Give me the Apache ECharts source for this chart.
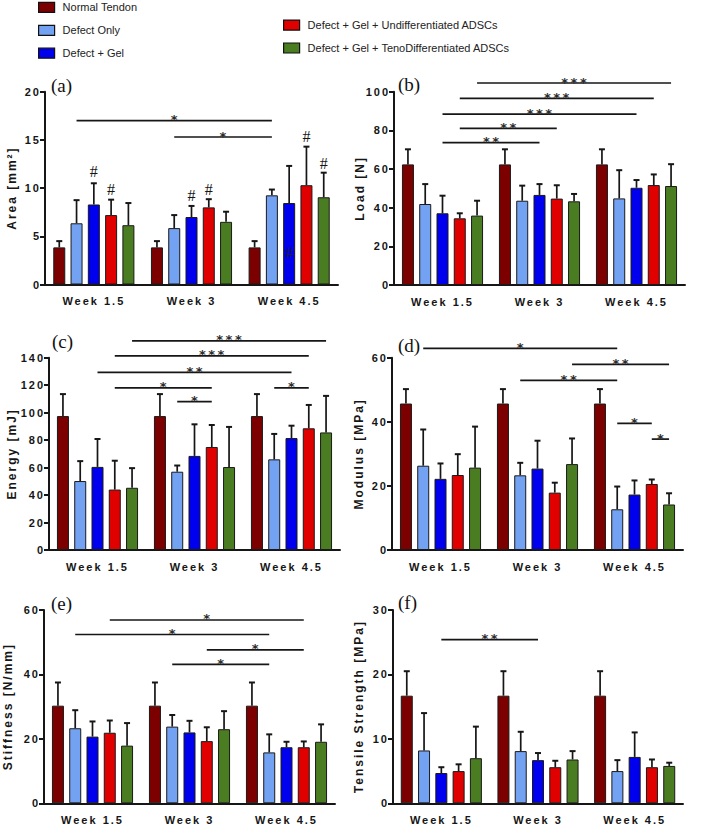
<!DOCTYPE html>
<html><head><meta charset="utf-8">
<script src="https://cdn.jsdelivr.net/npm/echarts@6/dist/echarts.min.js"></script>
<style>
html,body{margin:0;padding:0;background:#fff;}
#c{width:718px;height:827px;}
#c text[style*="bold"]{letter-spacing:2px;}
#c text[style*="DejaVu"]{letter-spacing:2.5px;opacity:0.99;}
</style></head><body><div id="c"></div>
<script>
// ---------- DATA ----------
const weeks = ['Week 1.5', 'Week 3', 'Week 4.5'];
const groups = ['Normal Tendon', 'Defect Only', 'Defect + Gel',
  'Defect + Gel + Undifferentiated ADSCs', 'Defect + Gel + TenoDifferentiated ADSCs'];
const panelLabels = ['(a)', '(b)', '(c)', '(d)', '(e)', '(f)'];
const axisNames = ['Area [mm²]', 'Load [N]', 'Energy [mJ]', 'Modulus [MPa]', 'Stiffness [N/mm]', 'Tensile Strength [MPa]'];
const yMax = [20, 100, 140, 60, 60, 30];
const yStep = [5, 20, 20, 20, 20, 10];

// rows = groups, cols = weeks
const areaMean = [[3.85,3.85,3.85],[6.35,5.85,9.25],[8.3,7.0,8.45],[7.2,8.0,10.3],[6.15,6.5,9.05]];
const areaSD   = [[0.65,0.65,0.65],[2.4,1.35,0.6],[2.2,1.15,3.85],[1.6,0.85,4.0],[2.3,1.05,2.55]];
const loadMean = [[62.4,62.4,62.4],[41.9,43.6,44.8],[37.1,46.6,50.3],[34.5,44.7,51.7],[35.9,43.3,51.2]];
const loadSD   = [[7.8,7.8,7.8],[10.3,7.8,14.6],[9.1,5.6,4.0],[2.6,6.9,5.5],[7.7,3.8,11.3]];
const energyMean = [[97.5,97.5,97.5],[50.2,57,66],[60.5,68.5,81.5],[44,75,88.6],[45.3,60.4,85.6]];
const energySD   = [[16,16,16],[14.5,4.5,18.5],[20.3,23,9],[21,16,17],[14.3,29.2,26.6]];
const modulusMean = [[45.7,45.7,45.7],[26.3,23.3,12.7],[22.2,25.4,17.3],[23.4,17.9,20.6],[25.7,26.8,14.2]];
const modulusSD   = [[4.5,4.5,4.5],[11.3,3.9,7.1],[4.8,8.7,4.4],[6.5,3.1,1.4],[12.8,8.0,3.5]];
const stiffMean = [[30.3,30.3,30.3],[23.3,23.8,15.8],[20.7,22.0,17.4],[21.9,19.3,17.4],[17.9,23.0,19.1]];
const stiffSD   = [[7.2,7.2,7.2],[5.6,3.6,5.6],[4.7,3.6,1.7],[3.8,4.3,1.8],[7.0,5.6,5.4]];
const tensileMean = [[16.7,16.7,16.7],[8.2,8.1,5.0],[4.7,6.7,7.2],[5.0,5.6,5.6],[7.0,6.8,5.8]];
const tensileSD   = [[3.8,3.8,3.8],[5.8,3.0,1.7],[0.9,1.1,3.8],[1.05,1.0,1.2],[4.9,1.3,0.5]];

// significance bars: [fromWeek, fromGroup, toWeek, toGroup, yValue, label]
const areaSig = [[0,1,2,1,17.0,'*'],[1,1,2,1,15.3,'*']];
const loadSig = [[0,4,2,4,104.5,'***'],[0,3,2,3,96.5,'***'],[0,2,2,2,88.4,'***'],[0,3,1,3,81.0,'**'],[0,2,1,2,73.7,'**']];
const energySig = [[0,4,2,4,152.3,'***'],[0,3,2,3,141.4,'***'],[0,2,2,2,129.3,'**'],[0,3,1,3,118.1,'*'],[1,1,1,3,108,'*'],[2,1,2,3,118.1,'*']];
const modulusSig = [[0,1,2,1,62.9,'*'],[1,4,2,4,57.9,'**'],[1,1,2,1,52.9,'**'],[2,1,2,3,39.5,'*'],[2,3,2,4,34.6,'*']];
const stiffSig = [[0,3,2,3,56.9,'*'],[0,1,2,1,52.4,'*'],[1,3,2,3,47.6,'*'],[1,1,2,1,43.1,'*']];
const tensileSig = [[0,2,1,2,25.4,'**']];
// '#' marks in panel (a): [week, group, yValue]
const areaHash = [[0,2,11.75],[0,3,9.85],[1,2,9.2],[1,3,9.9],[2,3,15.4],[2,4,12.6],[2,2,3.3]];

const means = [areaMean, loadMean, energyMean, modulusMean, stiffMean, tensileMean];
const sds = [areaSD, loadSD, energySD, modulusSD, stiffSD, tensileSD];
const sigs = [areaSig, loadSig, energySig, modulusSig, stiffSig, tensileSig];

// ---------- STYLE / LAYOUT ----------
const colors = ['#7d0000', '#74a2f2', '#0000ee', '#e10000', '#4a7d22'];
const gridPos = [
  {left:45, top:91.7, width:293, height:192.8},
  {left:394, top:91.7, width:291, height:193.3},
  {left:49, top:357.7, width:291, height:192.3},
  {left:392, top:357.7, width:291, height:192.3},
  {left:44, top:610, width:291, height:193.3},
  {left:393, top:610, width:290, height:193.3}
];
const nameGaps = [27, 28, 31, 27, 30, 28];
const labelPos = [[51,85],[398,84],[52,341],[398,345],[51,603],[398,602]];
const BAR_W = 12, BAR_GAP = 0.44;
const STEP = BAR_W * (1 + BAR_GAP);
const FONT = 'Liberation Sans';
const INK = '#161616';

const grid = [], xAxis = [], yAxis = [], series = [];
for (let p = 0; p < 6; p++) {
  grid.push(Object.assign({containLabel:false}, gridPos[p]));
  xAxis.push({
    type:'category', gridIndex:p, data:weeks,
    axisLine:{lineStyle:{color:INK, width:2}},
    axisTick:{alignWithLabel:true, length:5, lineStyle:{color:INK, width:2}},
    axisLabel:{margin:11, interval:0, fontFamily:FONT, fontWeight:'bold', fontSize:11, color:INK}
  });
  yAxis.push({
    type:'value', gridIndex:p, min:0, max:yMax[p], interval:yStep[p],
    name:axisNames[p], nameLocation:'middle', nameGap:nameGaps[p],
    nameTextStyle:{fontFamily:FONT, fontWeight:'bold', fontSize:12, color:INK},
    splitLine:{show:false},
    axisLine:{show:true, lineStyle:{color:INK, width:2}},
    axisTick:{show:true, length:5, lineStyle:{color:INK, width:2}},
    axisLabel:{margin:4, fontFamily:FONT, fontWeight:'bold', fontSize:11, color:INK}
  });
  const m = means[p], s = sds[p];
  for (let g = 0; g < 5; g++) {
    series.push({
      type:'bar', name:groups[g], xAxisIndex:p, yAxisIndex:p,
      data:m[g], barWidth:BAR_W, barGap:(BAR_GAP*100)+'%',
      itemStyle:{color:colors[g], borderColor:'#1a1a1a', borderWidth:1}
    });
  }
  // error bars
  const errData = [];
  for (let g = 0; g < 5; g++) for (let c = 0; c < 3; c++) errData.push([c, g, m[g][c], s[g][c]]);
  series.push({
    type:'custom', xAxisIndex:p, yAxisIndex:p, data:errData, encode:{x:0, y:2}, z:3,
    itemStyle:{color:INK},
    renderItem:function(params, api){
      const c = api.value(0), g = api.value(1), mv = api.value(2), sv = api.value(3);
      const p0 = api.coord([c, mv]), p1 = api.coord([c, mv + sv]);
      const x = p0[0] + (g - 2) * STEP;
      return {type:'group', children:[
        {type:'line', shape:{x1:x, y1:p0[1], x2:x, y2:p1[1]}, style:{stroke:INK, lineWidth:1.7}},
        {type:'line', shape:{x1:x-3, y1:p1[1], x2:x+3, y2:p1[1]}, style:{stroke:INK, lineWidth:2}}
      ]};
    }
  });
  // significance bars
  const sg = sigs[p];
  series.push({
    type:'custom', xAxisIndex:p, yAxisIndex:p, data:sg.map(r => r.slice(0,5)), encode:{x:0, y:4}, z:4,
    itemStyle:{color:'#222'},
    renderItem:function(params, api){
      const r = sg[params.dataIndex];
      const a = api.coord([r[0], r[4]]), b = api.coord([r[2], r[4]]);
      const x1 = a[0] + (r[1] - 2) * STEP, x2 = b[0] + (r[3] - 2) * STEP, y = a[1];
      return {type:'group', children:[
        {type:'line', shape:{x1:x1, y1:y, x2:x2, y2:y}, style:{stroke:INK, lineWidth:1.7}},
        {type:'text', x:(x1 + x2) / 2 + 1.2, y:y - 1, style:{text:r[5], fill:'#2a2a2a',
          font:'bold 13px "DejaVu Sans"', align:'center', verticalAlign:'middle',
          textAlign:'center', textVerticalAlign:'middle'}}
      ]};
    }
  });
}
// '#' marks in panel (a)
series.push({
  type:'custom', xAxisIndex:0, yAxisIndex:0, data:areaHash, encode:{x:0, y:2}, z:5,
  itemStyle:{color:INK},
  renderItem:function(params, api){
    const c = api.value(0), g = api.value(1), yv = api.value(2);
    const pt = api.coord([c, yv]);
    const inside = yv < areaMean[g][c];
    return {type:'text', x:pt[0] + (g - 2) * STEP, y:pt[1], style:{text:'#',
      fill: inside ? '#1c1c44' : INK, font:'16px "Liberation Serif"',
      align:'center', verticalAlign:'middle', textAlign:'center', textVerticalAlign:'middle'}};
  }
});

const legendCommon = {
  orient:'vertical', itemWidth:16, itemHeight:10, itemGap:11.7, padding:0, selectedMode:false,
  icon:'rect', itemStyle:{borderColor:'#111', borderWidth:1.2},
  textStyle:{fontFamily:FONT, fontSize:11, color:'#222', padding:[0,0,0,3]}
};

const option = {
  animation:false,
  backgroundColor:'#fff',
  legend:[
    Object.assign({data:groups.slice(0,3), left:38, top:1.8}, legendCommon),
    Object.assign({data:groups.slice(3), left:283, top:19.5}, legendCommon)
  ],
  grid, xAxis, yAxis, series,
  graphic: panelLabels.map((t, i) => ({type:'text', x:labelPos[i][0], y:labelPos[i][1],
    style:{text:t, font:'19px "Liberation Serif"', fill:'#111', verticalAlign:'middle', textVerticalAlign:'middle'}}))
};
const chart = echarts.init(document.getElementById('c'), null, {renderer:'svg'});
chart.setOption(option);
</script></body></html>
